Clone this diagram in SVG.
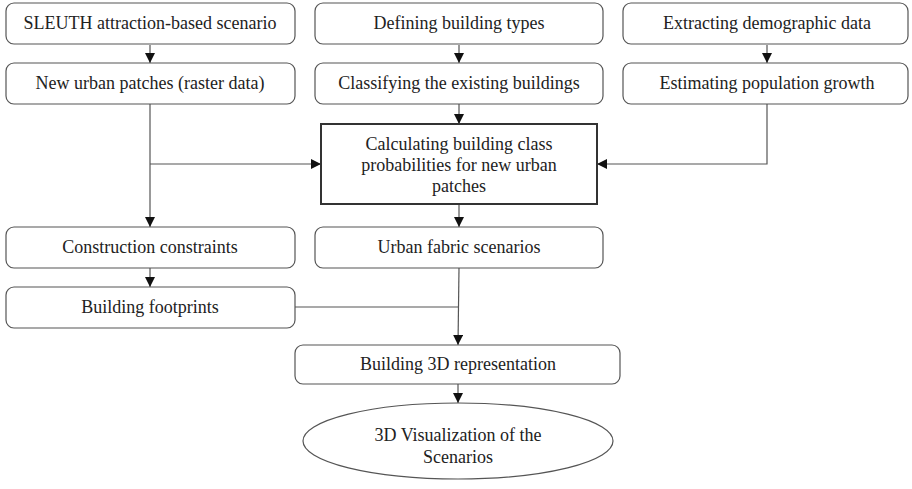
<svg xmlns="http://www.w3.org/2000/svg" width="912" height="489" viewBox="0 0 912 489">
<style>
.b{fill:#fff;stroke:#555;stroke-width:1.2}
.k{fill:#fff;stroke:#333;stroke-width:2}
.t{font-family:"Liberation Serif","Times New Roman",serif;font-size:18px;fill:#222;text-anchor:middle}
.c{fill:none;stroke:#555;stroke-width:1.2}
</style>
<defs>
<marker id="a" viewBox="0 0 10 10" refX="10" refY="5" markerWidth="10" markerHeight="10" markerUnits="userSpaceOnUse" orient="auto">
<path d="M0,0 L10,5 L0,10 z" fill="#111"/>
</marker>
</defs>
<rect width="912" height="489" fill="#fff"/>
<g id="connectors">
<line class="c" x1="150" y1="45" x2="150" y2="63" marker-end="url(#a)"/>
<line class="c" x1="459" y1="45" x2="459" y2="63" marker-end="url(#a)"/>
<line class="c" x1="767" y1="45" x2="767" y2="63" marker-end="url(#a)"/>
<line class="c" x1="459" y1="104" x2="459" y2="124" marker-end="url(#a)"/>
<line class="c" x1="150" y1="104" x2="150" y2="227" marker-end="url(#a)"/>
<line class="c" x1="150" y1="164" x2="321" y2="164" marker-end="url(#a)"/>
<polyline class="c" points="767,104 767,164 597,164" marker-end="url(#a)"/>
<line class="c" x1="459" y1="204" x2="459" y2="227" marker-end="url(#a)"/>
<line class="c" x1="150" y1="268" x2="150" y2="287" marker-end="url(#a)"/>
<line class="c" x1="459" y1="268" x2="458" y2="345" marker-end="url(#a)"/>
<line class="c" x1="295" y1="307" x2="458" y2="307"/>
<line class="c" x1="458" y1="384" x2="458" y2="403" marker-end="url(#a)"/>
</g>
<g id="n1"><rect class="b" x="6" y="3" width="289" height="41" rx="8"/><text class="t" x="150" y="29">SLEUTH attraction-based scenario</text></g>
<g id="n2"><rect class="b" x="315" y="3" width="288" height="41" rx="8"/><text class="t" x="459" y="29">Defining building types</text></g>
<g id="n3"><rect class="b" x="623" y="3" width="285" height="41" rx="8"/><text class="t" x="767" y="29">Extracting demographic data</text></g>
<g id="n4"><rect class="b" x="6" y="63" width="289" height="41" rx="8"/><text class="t" x="150" y="89">New urban patches (raster data)</text></g>
<g id="n5"><rect class="b" x="315" y="63" width="288" height="41" rx="8"/><text class="t" x="459" y="89">Classifying the existing buildings</text></g>
<g id="n6"><rect class="b" x="623" y="63" width="285" height="41" rx="8"/><text class="t" x="767" y="89">Estimating population growth</text></g>
<g id="n7"><rect class="k" x="321" y="124" width="276" height="80"/>
<text class="t" x="459" y="150">Calculating building class</text>
<text class="t" x="459" y="171">probabilities for new urban</text>
<text class="t" x="459" y="192">patches</text></g>
<g id="n8"><rect class="b" x="6" y="227" width="289" height="41" rx="8"/><text class="t" x="150" y="253">Construction constraints</text></g>
<g id="n9"><rect class="b" x="315" y="227" width="288" height="41" rx="8"/><text class="t" x="459" y="253">Urban fabric scenarios</text></g>
<g id="n10"><rect class="b" x="6" y="287" width="289" height="41" rx="8"/><text class="t" x="150" y="313">Building footprints</text></g>
<g id="n11"><rect class="b" x="295" y="345" width="325" height="39" rx="8"/><text class="t" x="458" y="370">Building 3D representation</text></g>
<g id="n12"><ellipse class="b" cx="458" cy="441" rx="155" ry="38"/>
<text class="t" x="458" y="441">3D Visualization of the</text>
<text class="t" x="458" y="463">Scenarios</text></g>
</svg>
